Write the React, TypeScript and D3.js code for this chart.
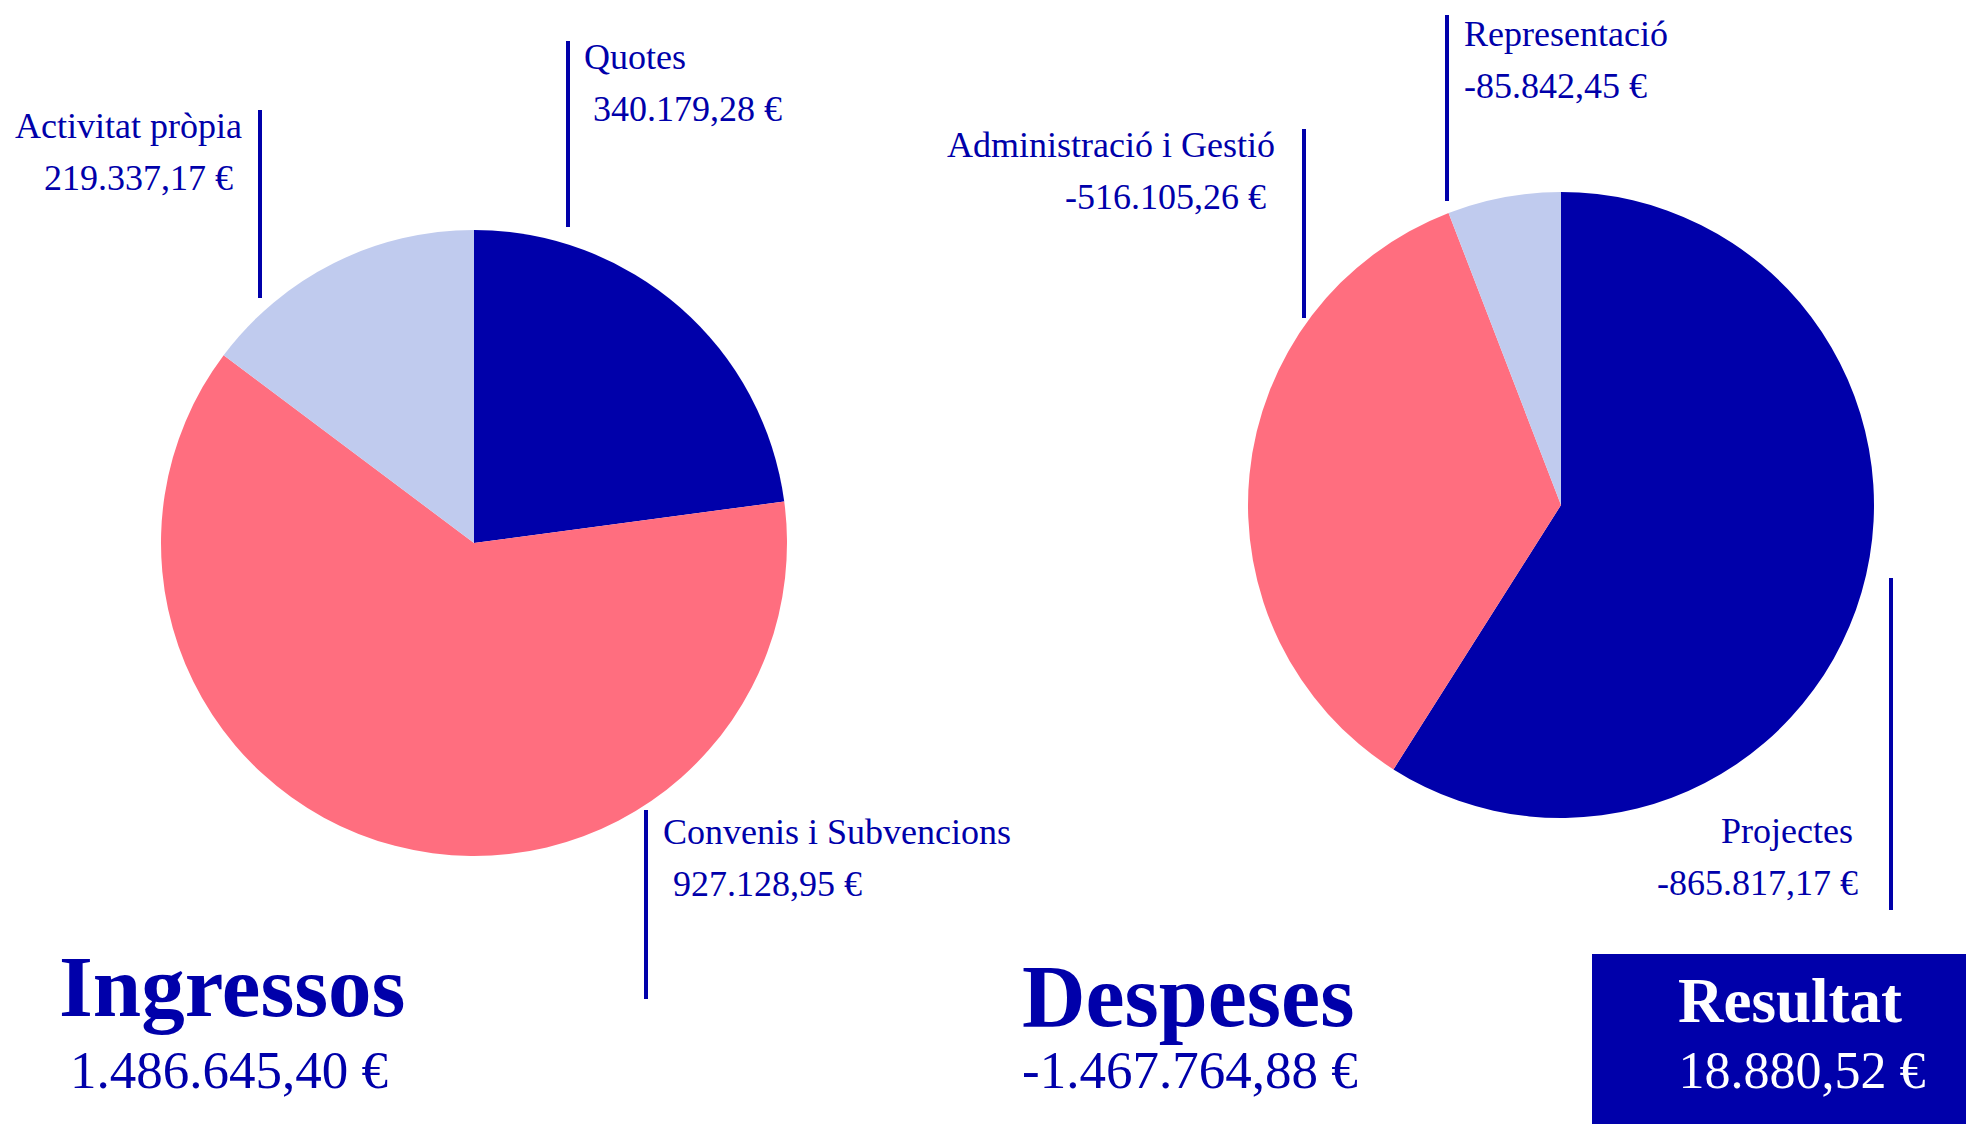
import * as d3 from "d3";

// Income (Ingressos) and expenses (Despeses), in euros
const ingressosLabels = ["Quotes", "Convenis i Subvencions", "Activitat pròpia"];
const ingressosValues = [340179.28, 927128.95, 219337.17];
const despesesLabels = ["Projectes", "Administració i Gestió", "Representació"];
const despesesValues = [-865817.17, -516105.26, -85842.45];
const sliceColors = ["#0000aa", "#ff6e7f", "#c0cbee"];

const W = 1966;
const H = 1124;
const BLUE = "#0000aa";
const FONT = "'Liberation Serif', 'DejaVu Serif', serif";

const locale = d3.formatLocale({
  decimal: ",",
  thousands: ".",
  grouping: [3],
  currency: ["", " €"],
  minus: "-",
});
const euro = locale.format("$,.2f");

// hand-placed callouts: leader line (x, y1, y2), label anchor, alignment
type Callout = { lx: number; ly1: number; ly2: number; tx: number; ty: number; vx: number; anchor: "start" | "end" };
const ingressosCallouts: Callout[] = [
  { lx: 568, ly1: 41, ly2: 227, tx: 584, ty: 69, vx: 593, anchor: "start" },
  { lx: 646, ly1: 810, ly2: 999, tx: 663, ty: 844, vx: 673, anchor: "start" },
  { lx: 260, ly1: 110, ly2: 298, tx: 242, ty: 138, vx: 233, anchor: "end" },
];
const despesesCallouts: Callout[] = [
  { lx: 1891, ly1: 578, ly2: 910, tx: 1853, ty: 843, vx: 1858, anchor: "end" },
  { lx: 1304, ly1: 129, ly2: 318, tx: 1275, ty: 157, vx: 1266, anchor: "end" },
  { lx: 1447, ly1: 15, ly2: 201, tx: 1464, ty: 46, vx: 1464, anchor: "start" },
];

const radius = 313;
const arc = d3.arc<d3.PieArcDatum<number>>().innerRadius(0).outerRadius(radius);
const pie = d3
  .pie<number>()
  .sort(null)
  .value((d) => Math.abs(d));

function Pie({
  cx,
  cy,
  labels,
  values,
  callouts,
}: {
  cx: number;
  cy: number;
  labels: string[];
  values: number[];
  callouts: Callout[];
}) {
  const arcs = pie(values);
  return (
    <g>
      <g transform={`translate(${cx},${cy})`}>
        {arcs.map((a, i) => (
          <path key={i} d={arc(a) ?? ""} fill={sliceColors[i]} />
        ))}
      </g>
      {callouts.map((c, i) => (
        <g key={i}>
          <line x1={c.lx} x2={c.lx} y1={c.ly1} y2={c.ly2} stroke={BLUE} strokeWidth={4} />
          <text x={c.tx} y={c.ty} textAnchor={c.anchor} fontSize={36} fill={BLUE}>
            {labels[i]}
          </text>
          <text x={c.vx} y={c.ty + 52} textAnchor={c.anchor} fontSize={36} fill={BLUE}>
            {euro(values[i])}
          </text>
        </g>
      ))}
    </g>
  );
}

export default function App() {
  const totalIn = d3.sum(ingressosValues);
  const totalOut = d3.sum(despesesValues);
  const result = totalIn + totalOut;

  return (
    <svg
      width={W}
      height={H}
      style={{ position: "absolute", left: 0, top: 0, background: "#fff" }}
      fontFamily={FONT}
    >
      <Pie cx={474} cy={543} labels={ingressosLabels} values={ingressosValues} callouts={ingressosCallouts} />
      <Pie cx={1561} cy={505} labels={despesesLabels} values={despesesValues} callouts={despesesCallouts} />

      {/* totals */}
      <text x={59} y={1016} fontSize={87} fontWeight="bold" fill={BLUE}>
        Ingressos
      </text>
      <text x={70} y={1088} fontSize={53} fill={BLUE}>
        {euro(totalIn)}
      </text>
      <text x={1022} y={1026} fontSize={88} fontWeight="bold" fill={BLUE}>
        Despeses
      </text>
      <text x={1022} y={1088} fontSize={53} fill={BLUE}>
        {euro(totalOut)}
      </text>

      <rect x={1592} y={954} width={W - 1592} height={H - 954} fill={BLUE} />
      <text x={1790} y={1022} textAnchor="middle" fontSize={63} fontWeight="bold" fill="#fff">
        Resultat
      </text>
      <text x={1802} y={1088} textAnchor="middle" fontSize={52} fill="#fff">
        {euro(result)}
      </text>
    </svg>
  );
}
